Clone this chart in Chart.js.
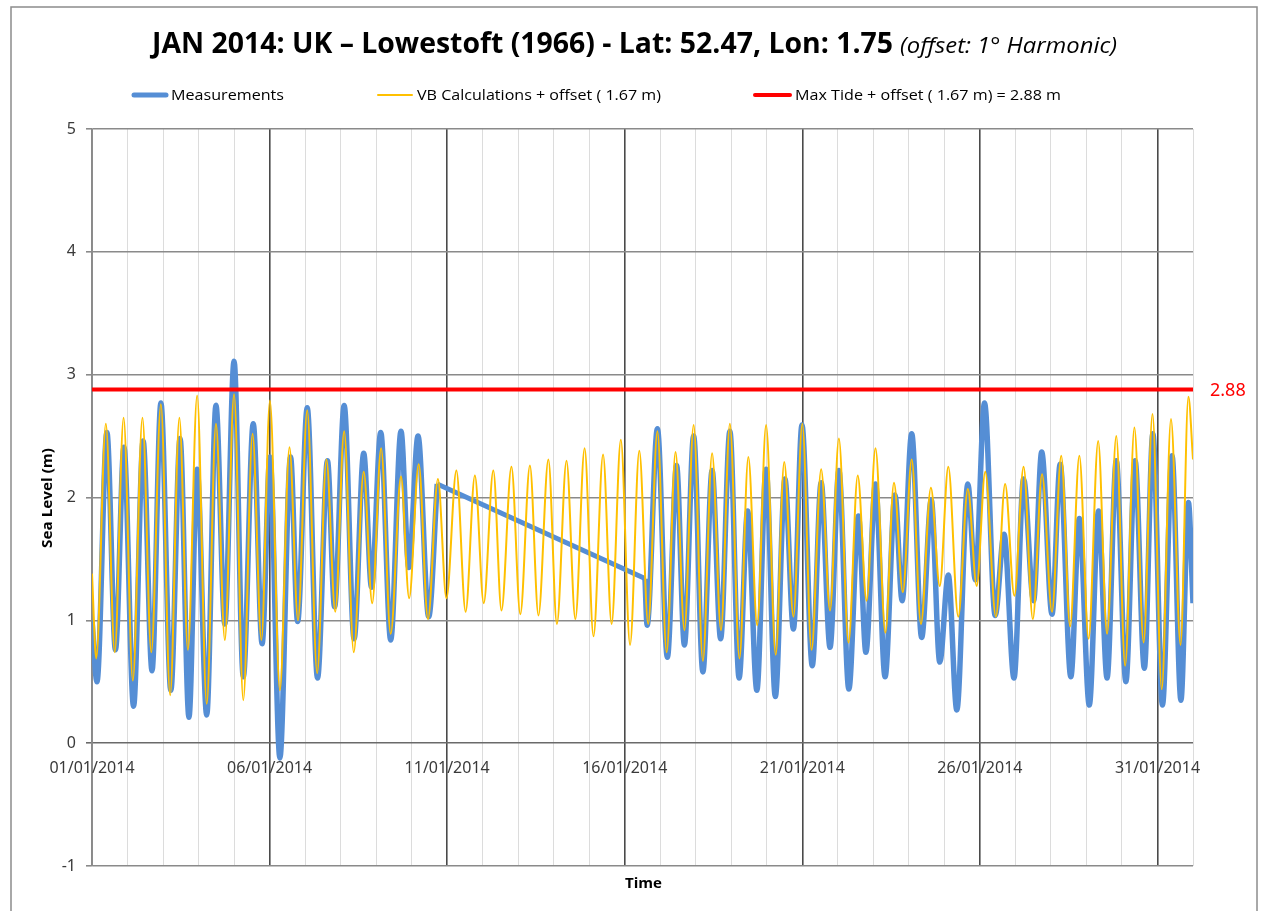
<!DOCTYPE html>
<html>
<head>
<meta charset="utf-8">
<title>Lowestoft sea level, January 2014</title>
<script src="https://cdn.jsdelivr.net/npm/chart.js@4.4.1/dist/chart.umd.min.js"></script>
<style>
  body { margin: 0; background: #fff; }
  #tide { display: block; }
</style>
</head>
<body>
<canvas id="tide" width="1261" height="911"></canvas>
<script>
// Measured sea level, turning points only (days since 01/01/2014, metres)
var measTimes = [0.00, 0.14, 0.42, 0.66, 0.90, 1.17, 1.44, 1.69, 1.94, 2.22,
  2.48, 2.73, 2.96, 3.23, 3.49, 3.74, 4.00, 4.26, 4.54, 4.79,
  5.01, 5.29, 5.59, 5.79, 6.06, 6.35, 6.63, 6.83, 7.10, 7.38,
  7.65, 7.87, 8.13, 8.41, 8.70, 8.92, 9.18, 9.48, 9.72,
  15.57, 15.63, 15.92, 16.20, 16.46, 16.68, 16.94, 17.20, 17.46, 17.70,
  17.96, 18.22, 18.46, 18.72, 18.98, 19.24, 19.51, 19.75, 19.99, 20.28,
  20.53, 20.78, 21.03, 21.31, 21.58, 21.79, 22.06, 22.33, 22.61, 22.81,
  23.08, 23.36, 23.63, 23.87, 24.11, 24.35, 24.66, 24.87, 25.13, 25.43,
  25.68, 25.96, 26.23, 26.51, 26.74, 27.03, 27.26, 27.56, 27.80, 28.08,
  28.34, 28.58, 28.84, 29.11, 29.37, 29.63, 29.87, 30.14, 30.41, 30.66,
  30.87, 31.00];
var measLevels = [1.00, 0.50, 2.53, 0.76, 2.41, 0.30, 2.46, 0.59, 2.77, 0.43,
  2.48, 0.21, 2.23, 0.23, 2.75, 0.97, 3.11, 0.54, 2.60, 0.81,
  2.33, -0.12, 2.33, 0.99, 2.73, 0.53, 2.30, 1.11, 2.75, 0.85,
  2.36, 1.27, 2.53, 0.84, 2.54, 1.43, 2.50, 1.03, 2.11,
  1.34, 0.96, 2.56, 0.70, 2.26, 0.80, 2.50, 0.58, 2.22, 0.85,
  2.54, 0.53, 1.89, 0.43, 2.23, 0.38, 2.15, 0.93, 2.59, 0.63,
  2.12, 0.78, 2.22, 0.44, 1.85, 0.74, 2.11, 0.54, 2.02, 1.16,
  2.52, 0.86, 1.98, 0.66, 1.37, 0.27, 2.11, 1.33, 2.77, 1.04,
  1.70, 0.53, 2.15, 1.16, 2.37, 1.05, 2.27, 0.54, 1.83, 0.31,
  1.89, 0.53, 2.30, 0.50, 2.30, 0.61, 2.52, 0.31, 2.34, 0.35,
  1.96, 1.14];

// VB harmonic prediction + offset, turning points
var vbTimes = [0.00, 0.12, 0.39, 0.64, 0.89, 1.15, 1.42, 1.67, 1.94, 2.20,
  2.46, 2.70, 2.96, 3.23, 3.49, 3.74, 4.00, 4.26, 4.52, 4.77,
  5.01, 5.29, 5.56, 5.80, 6.06, 6.34, 6.60, 6.85, 7.10, 7.37,
  7.65, 7.89, 8.14, 8.41, 8.70, 8.93, 9.20, 9.46, 9.74, 9.98,
  10.26, 10.52, 10.78, 11.03, 11.30, 11.53, 11.81, 12.06, 12.33, 12.57,
  12.85, 13.09, 13.36, 13.61, 13.87, 14.12, 14.39, 14.63, 14.89, 15.15,
  15.41, 15.66, 15.92, 16.18, 16.43, 16.68, 16.94, 17.20, 17.46, 17.71,
  17.96, 18.23, 18.48, 18.73, 18.98, 19.25, 19.49, 19.75, 20.00, 20.26,
  20.53, 20.78, 21.03, 21.30, 21.56, 21.81, 22.06, 22.34, 22.58, 22.83,
  23.08, 23.34, 23.62, 23.87, 24.11, 24.39, 24.66, 24.91, 25.15, 25.45,
  25.71, 25.97, 26.23, 26.49, 26.75, 27.03, 27.29, 27.54, 27.80, 28.06,
  28.33, 28.58, 28.84, 29.09, 29.35, 29.61, 29.86, 30.12, 30.38, 30.65,
  30.87, 31.00];
var vbLevels = [1.38, 0.69, 2.60, 0.74, 2.65, 0.51, 2.65, 0.74, 2.76, 0.39,
  2.65, 0.76, 2.83, 0.32, 2.60, 0.84, 2.84, 0.35, 2.52, 0.84,
  2.79, 0.43, 2.41, 1.00, 2.71, 0.57, 2.31, 1.07, 2.54, 0.74,
  2.21, 1.14, 2.40, 0.89, 2.17, 1.18, 2.27, 1.01, 2.15, 1.18,
  2.22, 1.07, 2.18, 1.14, 2.22, 1.08, 2.25, 1.05, 2.26, 1.04,
  2.31, 0.97, 2.30, 1.01, 2.40, 0.87, 2.35, 0.97, 2.47, 0.80,
  2.38, 0.97, 2.54, 0.74, 2.37, 0.92, 2.59, 0.67, 2.36, 0.92,
  2.60, 0.69, 2.33, 0.96, 2.59, 0.72, 2.29, 1.03, 2.60, 0.76,
  2.23, 1.08, 2.48, 0.82, 2.18, 1.16, 2.40, 0.90, 2.12, 1.23,
  2.31, 0.97, 2.08, 1.28, 2.25, 1.03, 2.07, 1.28, 2.21, 1.03,
  2.11, 1.20, 2.25, 1.01, 2.19, 1.07, 2.34, 0.95, 2.34, 0.85,
  2.46, 0.89, 2.50, 0.63, 2.57, 0.82, 2.68, 0.44, 2.64, 0.80,
  2.82, 2.31];

var maxTide = 2.88;
var dayLabels = ['01/01/2014', '06/01/2014', '11/01/2014', '16/01/2014',
  '21/01/2014', '26/01/2014', '31/01/2014'];

function pts(times, levels, from, to) {
  var out = [];
  for (var i = from; i < to; i++) out.push({x: times[i], y: levels[i]});
  return out;
}

// the record has a hole around 10-15 Jan, Excel joins it with a straight line
var gapAt = measTimes.findIndex(function (t, i) { return i > 0 && t - measTimes[i - 1] > 1; });

var BLUE = '#558ED5', GOLD = '#FFC000', RED = '#FF0000';

// squeeze text horizontally to a given width (stands in for Calibri)
function fitText(ctx, text, x, y, w, font, color, rot) {
  ctx.save();
  ctx.font = font;
  var m = ctx.measureText(text).width;
  ctx.translate(x, y);
  if (rot) ctx.rotate(rot);
  ctx.scale(w / m, 1);
  ctx.fillStyle = color;
  ctx.textAlign = 'left';
  ctx.textBaseline = 'alphabetic';
  ctx.fillText(text, 0, 0);
  ctx.restore();
}

var decor = {
  id: 'decor',
  beforeDraw: function (chart) {
    var c = chart.ctx;
    c.save();
    c.fillStyle = '#fff';
    c.fillRect(0, 0, chart.width, chart.height);
    c.restore();
  },
  afterDraw: function (chart) {
    var c = chart.ctx, xs = chart.scales.x, ys = chart.scales.y;
    c.save();
    // outer frame
    c.strokeStyle = '#8c8c8c';
    c.lineWidth = 1.5;
    c.strokeRect(11, 7, 1246, 940);

    // title
    fitText(c, 'JAN 2014: UK \u2013 Lowestoft (1966) - Lat: 52.47, Lon: 1.75', 152, 53, 741,
      'bold 29px "Open Sans"', '#000');
    fitText(c, '(offset: 1\u00b0 Harmonic)', 900, 53, 217, 'italic 21px "Open Sans"', '#000');

    // legend
    var ly = 95;
    c.lineCap = 'round';
    c.strokeStyle = BLUE; c.lineWidth = 5;
    c.beginPath(); c.moveTo(134, ly); c.lineTo(166, ly); c.stroke();
    c.strokeStyle = GOLD; c.lineWidth = 2;
    c.beginPath(); c.moveTo(378, ly); c.lineTo(412, ly); c.stroke();
    c.strokeStyle = RED; c.lineWidth = 4;
    c.beginPath(); c.moveTo(755, ly); c.lineTo(790, ly); c.stroke();
    var lf = '15px "Open Sans"';
    fitText(c, 'Measurements', 171, 100, 113, lf, '#000');
    fitText(c, 'VB Calculations + offset ( 1.67 m)', 417, 100, 244, lf, '#000');
    fitText(c, 'Max Tide + offset ( 1.67 m) = 2.88 m', 795, 100, 266, lf, '#000');

    // date labels sit under the zero line
    var y0 = ys.getPixelForValue(0);
    c.fillStyle = '#3a3a3a';
    c.font = '16px "Noto Sans"';
    c.textAlign = 'center';
    c.textBaseline = 'middle';
    dayLabels.forEach(function (lab, i) {
      c.fillText(lab, xs.getPixelForValue(i * 5), y0 + 25);
    });

    // value of the max tide line
    c.fillStyle = RED;
    c.font = '18px "Noto Sans"';
    c.textAlign = 'left';
    c.fillText(maxTide.toFixed(2), 1210, ys.getPixelForValue(maxTide) + 1);

    // axis titles
    fitText(c, 'Time', 625, 888, 37, 'bold 15px "Open Sans"', '#000');
    fitText(c, 'Sea Level (m)', 52, 548, 100, 'bold 15px "Open Sans"', '#000', -Math.PI / 2);
    c.restore();
  }
};

var ctx_tide = document.getElementById('tide');
var tide = new Chart(ctx_tide, {
  type: 'line',
  data: {
    datasets: [
      {
        label: 'Max Tide + offset ( 1.67 m) = 2.88 m',
        data: [{x: 0, y: maxTide}, {x: 31, y: maxTide}],
        borderColor: RED,
        borderWidth: 4,
        order: 0
      },
      {
        label: 'VB Calculations + offset ( 1.67 m)',
        data: pts(vbTimes, vbLevels, 0, vbTimes.length),
        borderColor: GOLD,
        borderWidth: 2,
        cubicInterpolationMode: 'monotone',
        order: 1
      },
      {
        label: 'Measurements',
        data: pts(measTimes, measLevels, 0, gapAt),
        borderColor: BLUE,
        borderWidth: 5.5,
        cubicInterpolationMode: 'monotone',
        order: 2
      },
      {
        label: 'Measurements (gap)',
        data: pts(measTimes, measLevels, gapAt - 1, gapAt + 1),
        borderColor: BLUE,
        borderWidth: 5,
        tension: 0,
        order: 2
      },
      {
        label: 'Measurements (cont.)',
        data: pts(measTimes, measLevels, gapAt, measTimes.length),
        borderColor: BLUE,
        borderWidth: 5.5,
        cubicInterpolationMode: 'monotone',
        order: 2
      }
    ]
  },
  options: {
    responsive: false,
    animation: false,
    layout: { padding: { left: 42, right: 68, top: 129, bottom: 45 } },
    elements: { point: { radius: 0 }, line: { fill: false } },
    plugins: {
      legend: { display: false },
      title: { display: false },
      tooltip: { enabled: false }
    },
    scales: {
      x: {
        type: 'linear',
        min: 0,
        max: 31,
        ticks: { display: false, stepSize: 1 },
        grid: {
          drawTicks: false,
          color: function (ctx) { return ctx.tick.value % 5 === 0 ? '#4a4a4a' : '#dcdcdc'; },
          lineWidth: function (ctx) { return ctx.tick.value % 5 === 0 ? 1.6 : 1; }
        },
        border: { display: false },
        afterFit: function (s) { s.height = 0; }
      },
      y: {
        min: -1,
        max: 5,
        ticks: {
          stepSize: 1,
          padding: 10,
          color: '#3a3a3a',
          font: { family: 'Noto Sans', size: 16 }
        },
        grid: {
          tickLength: 6,
          color: function (ctx) { return ctx.tick.value === 0 ? '#6a6a6a' : '#8a8a8a'; },
          lineWidth: 1.6
        },
        border: { color: '#8a8a8a', width: 1.6 },
        afterFit: function (s) { s.width = 50; }
      }
    }
  },
  plugins: [decor]
});
</script>
</body>
</html>
